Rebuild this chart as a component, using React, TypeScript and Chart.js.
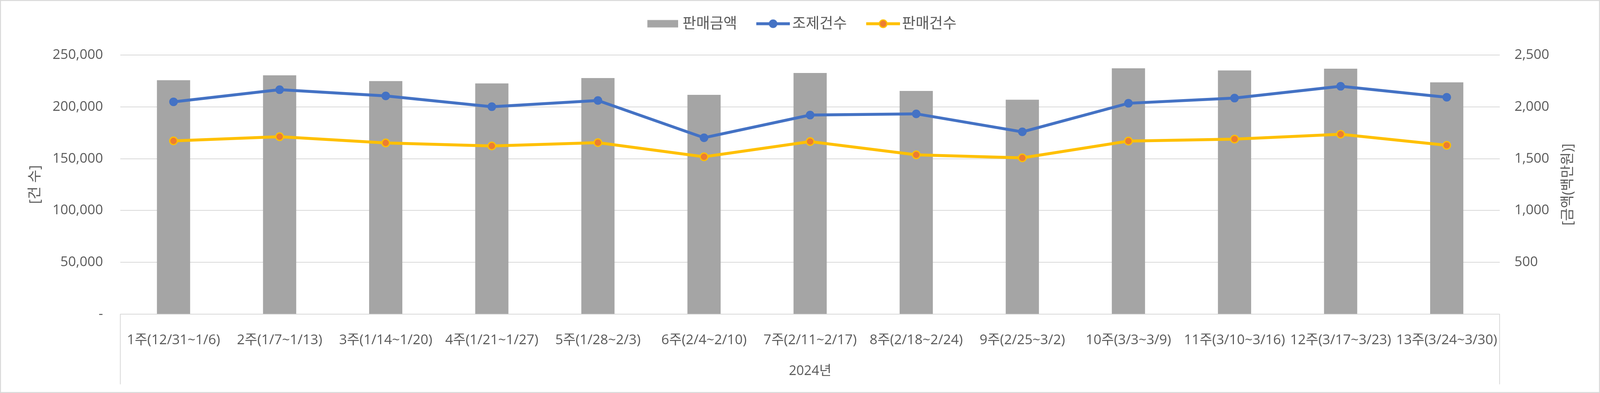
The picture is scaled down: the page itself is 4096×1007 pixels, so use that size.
import React, { useEffect, useRef } from 'react';
import { Chart, registerables } from 'chart.js';

Chart.register(...registerables);

// ---- data ----
const categories: string[] = [
  '1주(12/31~1/6)',
  '2주(1/7~1/13)',
  '3주(1/14~1/20)',
  '4주(1/21~1/27)',
  '5주(1/28~2/3)',
  '6주(2/4~2/10)',
  '7주(2/11~2/17)',
  '8주(2/18~2/24)',
  '9주(2/25~3/2)',
  '10주(3/3~3/9)',
  '11주(3/10~3/16)',
  '12주(3/17~3/23)',
  '13주(3/24~3/30)',
];

// 판매금액 (백만원) – right axis
const salesAmount: number[] = [2258, 2305, 2249, 2227, 2279, 2116, 2328, 2154, 2069, 2373, 2352, 2369, 2237];
// 조제건수 – left axis
const dispensingCount: number[] = [204900, 216600, 210600, 200200, 206200, 170200, 192100, 193300, 175900, 203500, 208500, 219900, 209300];
// 판매건수 – left axis
const salesCount: number[] = [167200, 171200, 165200, 162300, 165500, 151800, 166500, 153700, 150800, 167000, 168900, 173600, 162900];

const seriesNames: string[] = ['판매금액', '조제건수', '판매건수'];
const yearLabel = '2024년';
const leftAxisTitle = '[건 수]';
const rightAxisTitle = '[금액(백만원)]';
const leftAxisMax = 250000;
const leftAxisStep = 50000;
const rightAxisMax = 2500;
const rightAxisStep = 500;

// ---- style ----
const TEXT = '#595959';
const GRID = '#d9d9d9';
const BAR = '#a5a5a5';
const BLUE = '#4472c4';
const YELLOW = '#ffc000';
const ORANGE = '#ed7d31';
const FONT = "'Open Sans', 'Noto Sans CJK KR', sans-serif";

const W = 4096;
const H = 1007;
const S = W / 4582;
const LEGEND_FONT = 38;
const LEGEND_PAD = 22;
const LEGEND_SHIFT = 19;

function makeIcon(kind: number): HTMLCanvasElement {
  const c = document.createElement('canvas');
  const h = 26;
  const specs = [
    { w: 115, start: 36.5, len: 78.5 },
    { w: 126, start: 40, len: 86 },
    { w: 129, start: 42, len: 87 },
  ];
  const sp = specs[kind];
  c.width = sp.w;
  c.height = h;
  const ctx = c.getContext('2d')!;
  if (kind === 0) {
    ctx.fillStyle = BAR;
    ctx.fillRect(sp.start, (h - 19) / 2, sp.len, 19);
  } else {
    const color = kind === 1 ? BLUE : YELLOW;
    ctx.strokeStyle = color;
    ctx.lineWidth = 7.5;
    ctx.beginPath();
    ctx.moveTo(sp.start, h / 2);
    ctx.lineTo(sp.start + sp.len, h / 2);
    ctx.stroke();
    const cx = sp.start + sp.len / 2;
    ctx.beginPath();
    if (kind === 1) {
      ctx.fillStyle = BLUE;
      ctx.arc(cx, h / 2, 11, 0, Math.PI * 2);
      ctx.fill();
    } else {
      ctx.fillStyle = ORANGE;
      ctx.arc(cx, h / 2, 9.7, 0, Math.PI * 2);
      ctx.fill();
      ctx.lineWidth = 3;
      ctx.strokeStyle = YELLOW;
      ctx.stroke();
    }
  }
  return c;
}

const decorPlugin = {
  id: 'decor',
  beforeDraw(chart: any) {
    const ctx = chart.ctx;
    ctx.save();
    ctx.fillStyle = '#ffffff';
    ctx.fillRect(0, 0, chart.width, chart.height);
    ctx.restore();
  },
  afterDraw(chart: any) {
    const { ctx, chartArea } = chart;
    ctx.save();
    ctx.strokeStyle = GRID;
    ctx.lineWidth = 2;
    const yEnd = chart.height * (1102 / 1127);
    ctx.beginPath();
    ctx.moveTo(Math.round(chartArea.left), chartArea.bottom);
    ctx.lineTo(Math.round(chartArea.left), yEnd);
    ctx.moveTo(Math.round(chartArea.right), chartArea.bottom);
    ctx.lineTo(Math.round(chartArea.right), yEnd);
    ctx.stroke();
    ctx.lineWidth = 2.5;
    ctx.strokeRect(1.25, 1.25, chart.width - 2.5, chart.height - 2.5);
    ctx.fillStyle = TEXT;
    ctx.font = `36px ${FONT}`;
    ctx.textAlign = 'center';
    ctx.textBaseline = 'middle';
    ctx.translate(chart.width * (4491 / 4582), (chartArea.top + chartArea.bottom) / 2);
    ctx.rotate(-Math.PI / 2);
    ctx.fillText(rightAxisTitle, 0, 0);
    ctx.restore();
  },
};

export default function App() {
  const canvasRef = useRef<HTMLCanvasElement | null>(null);

  useEffect(() => {
    document.body.style.margin = '0';
    document.body.style.overflow = 'hidden';
    const canvas = canvasRef.current;
    if (!canvas) return;
    const icons = [makeIcon(0), makeIcon(1), makeIcon(2)];

    const plotTop = 158 * S;
    const plotBottom = 900 * S;
    const plotLeft = 345 * S;
    const plotRight = 4295 * S;
    const legendCenter = 68 * S;
    const spacer = plotTop - (legendCenter + LEGEND_FONT / 2 + 10);

    const chart = new Chart(canvas, {
      type: 'bar',
      data: {
        labels: categories,
        datasets: [
          {
            type: 'bar',
            label: seriesNames[0],
            data: salesAmount,
            yAxisID: 'y1',
            backgroundColor: BAR,
            borderWidth: 0,
            categoryPercentage: 1,
            barPercentage: 0.313,
            order: 3,
          } as any,
          {
            type: 'line',
            label: seriesNames[1],
            data: dispensingCount,
            yAxisID: 'y',
            borderColor: BLUE,
            backgroundColor: BLUE,
            borderWidth: 7.5,
            pointRadius: 11,
            pointBackgroundColor: BLUE,
            pointBorderWidth: 0,
            tension: 0,
            order: 1,
          } as any,
          {
            type: 'line',
            label: seriesNames[2],
            data: salesCount,
            yAxisID: 'y',
            borderColor: YELLOW,
            backgroundColor: ORANGE,
            borderWidth: 7.5,
            pointRadius: 9.7,
            pointBackgroundColor: ORANGE,
            pointBorderColor: YELLOW,
            pointBorderWidth: 3,
            tension: 0,
            order: 2,
          } as any,
        ],
      },
      options: {
        responsive: false,
        animation: false,
        events: [],
        layout: { padding: { top: 0, left: 0, right: LEGEND_SHIFT, bottom: 0 } },
        plugins: {
          tooltip: { enabled: false },
          title: {
            display: true,
            text: '',
            position: 'top',
            weight: 500,
            fullSize: true,
            padding: 0,
            font: { size: spacer, lineHeight: 1 },
          },
          legend: {
            display: true,
            position: 'top',
            align: 'center',
            labels: {
              usePointStyle: true,
              pointStyleWidth: 100,
              padding: LEGEND_PAD,
              color: TEXT,
              font: { size: LEGEND_FONT, family: FONT },
              generateLabels: () =>
                seriesNames.map((name, i) => ({
                  text: name,
                  fillStyle: 'transparent',
                  strokeStyle: 'transparent',
                  lineWidth: 0,
                  pointStyle: icons[i] as any,
                  hidden: false,
                  datasetIndex: i,
                  fontColor: TEXT,
                })),
            },
          },
        },
        scales: {
          x: {
            type: 'category',
            offset: true,
            grid: { display: false },
            border: { display: false },
            ticks: {
              color: TEXT,
              font: { size: 35, family: FONT },
              padding: 967 * S - plotBottom - 21,
              autoSkip: false,
              maxRotation: 0,
              minRotation: 0,
            },
            title: {
              display: true,
              text: yearLabel,
              color: TEXT,
              font: { size: 34, family: FONT },
              padding: { top: 0, bottom: 35.5 },
            },
            afterFit: (s: any) => {
              s.height = H - plotBottom;
            },
          },
          y: {
            type: 'linear',
            position: 'left',
            min: 0,
            max: leftAxisMax,
            grid: { color: GRID, lineWidth: 2, drawTicks: false },
            border: { display: false },
            ticks: {
              stepSize: leftAxisStep,
              color: TEXT,
              font: { size: 35, family: FONT },
              padding: plotLeft - 295 * S,
              callback: (v: any) => (Number(v) === 0 ? '-' : Number(v).toLocaleString('en-US')),
            },
            title: {
              display: true,
              text: leftAxisTitle,
              color: TEXT,
              font: { size: 36, family: FONT },
              padding: { top: 102 * S - 21.6, bottom: 0 },
            },
            afterFit: (s: any) => {
              s.width = plotLeft;
              s.paddingTop = plotTop;
            },
          },
          y1: {
            type: 'linear',
            position: 'right',
            min: 0,
            max: rightAxisMax,
            grid: { display: false, drawTicks: false },
            border: { display: false },
            ticks: {
              stepSize: rightAxisStep,
              color: TEXT,
              font: { size: 35, family: FONT },
              padding: 4337 * S - plotRight,
              callback: (v: any) => (Number(v) === 0 ? '' : Number(v).toLocaleString('en-US')),
            },
            afterFit: (s: any) => {
              s.width = W - plotRight - LEGEND_SHIFT;
              s.paddingTop = plotTop;
            },
          },
        },
      } as any,
      plugins: [decorPlugin],
    });

    let alive = true;
    if ((document as any).fonts && (document as any).fonts.ready) {
      (document as any).fonts.ready.then(() => {
        if (alive) chart.update();
      });
    }

    return () => {
      alive = false;
      chart.destroy();
    };
  }, []);

  return (
    <div style={{ width: W, height: H, position: 'relative' }}>
      <canvas ref={canvasRef} width={W} height={H} style={{ display: 'block' }} />
    </div>
  );
}
